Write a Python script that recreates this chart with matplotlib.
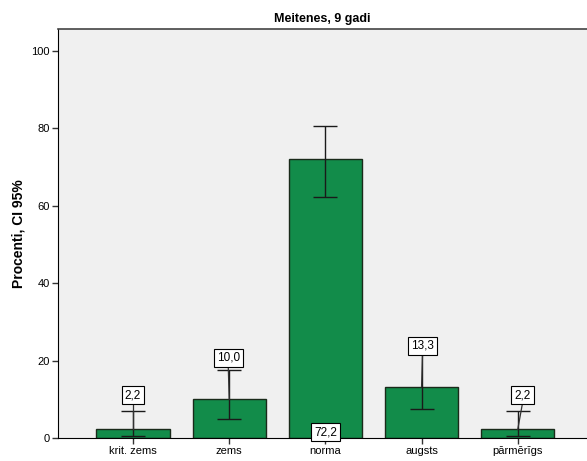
import matplotlib
matplotlib.use("Agg")
import matplotlib.pyplot as plt
import numpy as np

plt.rcParams['font.family'] = ['Liberation Sans', 'DejaVu Sans']

categories = ["krit. zems", "zems", "norma", "augsts", "pārmērīgs"]
percent = [2.2, 10.0, 72.2, 13.3, 2.2]
ci_low = [0.5, 4.9, 62.4, 7.5, 0.5]
ci_high = [7.0, 17.5, 80.7, 21.6, 7.0]
value_labels = ["2,2", "10,0", "72,2", "13,3", "2,2"]
yticks = [0, 20, 40, 60, 80, 100]

# label placement (offset in data units from the bar position)
label_dx = [0.0, -0.01, 0.0, 0.01, 0.05]
label_y = [11.1, 20.7, 1.5, 23.8, 11.1]

fig = plt.figure(figsize=(5.87, 4.61), dpi=100)
ax = fig.add_axes([0.0988, 0.0499, 0.9012, 0.8872])
ax.set_facecolor('#f0f0f0')

x = np.arange(len(categories))
ax.bar(x, percent, width=0.76, color='#128c4a', edgecolor='#1a2a1a', linewidth=1.0, zorder=2)

err = np.array([np.array(percent) - np.array(ci_low), np.array(ci_high) - np.array(percent)])
ax.errorbar(x, percent, yerr=err, fmt='none', ecolor='#1a1a1a', elinewidth=1.0,
            capsize=8.6, capthick=1.0, zorder=3)

for i, (v, lab) in enumerate(zip(percent, value_labels)):
    lx = x[i] + label_dx[i]
    ly = label_y[i]
    if ly > v:
        ax.plot([lx, x[i]], [ly - 2.0, v], color='#333333', lw=0.9, zorder=4)
    ax.text(lx, ly, lab, ha='center', va='center', fontsize=8.5, zorder=5,
            bbox=dict(boxstyle='square,pad=0.25', facecolor='white', edgecolor='black', linewidth=0.8))

ax.set_xlim(-0.78, 4.72)
ax.set_ylim(0, 105.7)
ax.set_xticks(x)
ax.set_xticklabels(categories, fontsize=8)
ax.set_yticks(yticks)
ax.set_yticklabels([str(t) for t in yticks], fontsize=8)
ax.tick_params(axis='both', direction='out', length=4, width=1, color='#333333', pad=2)

ax.spines['right'].set_visible(False)
ax.spines['top'].set_color('#444444')
ax.spines['top'].set_linewidth(1.2)
ax.spines['left'].set_color('black')
ax.spines['bottom'].set_color('black')

ax.set_ylabel("Procenti, CI 95%", fontsize=10, fontweight='bold')
ax.yaxis.set_label_coords(-0.061, 0.5)
ax.set_title("Meitenes, 9 gadi", fontsize=9, fontweight='bold', pad=5)

fig.savefig("out.png", dpi=100)
